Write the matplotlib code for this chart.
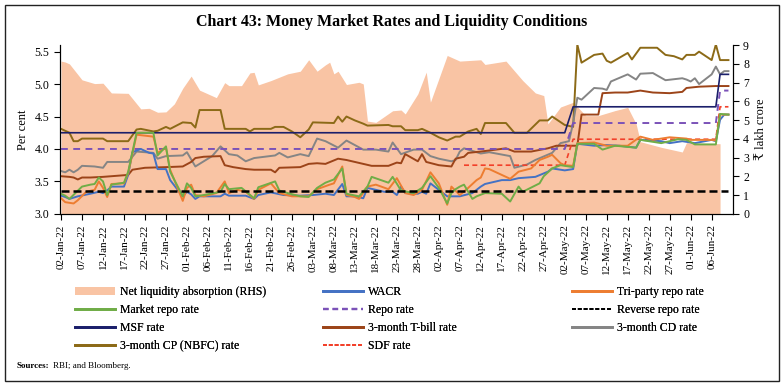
import numpy as np
import pandas as pd
import matplotlib
matplotlib.use('Agg')
import matplotlib.pyplot as plt
import matplotlib.dates as mdates
from matplotlib.lines import Line2D
from matplotlib.patches import Patch, Rectangle

plt.rcParams['font.family'] = ['Liberation Serif', 'DejaVu Serif']

start = np.datetime64('2022-01-02')

# net liquidity absorption, lakh crore (RHS), keyed by days after 02-Jan-22
liq_day = [0, 1, 2, 5, 8, 10, 12, 16, 19, 21, 23, 25, 27, 29, 31, 33, 37, 39, 40, 43, 45, 46, 47,
           50, 54, 57, 59, 61, 63, 64, 65, 66, 68, 71, 72, 73, 75, 79, 81, 82, 85, 87, 88, 92, 95,
           100, 101, 106, 110, 113, 115, 116, 117, 119, 122, 125, 128, 132, 135, 137, 138, 143,
           148, 149, 157]
liq = [8.15, 8.1, 8.0, 7.15, 6.95, 6.97, 6.45, 6.43, 5.6, 5.63, 5.42, 5.44, 5.87, 6.7, 7.35, 6.6,
       6.2, 7.0, 6.84, 6.84, 7.52, 7.55, 6.88, 7.11, 7.47, 7.61, 8.22, 7.61, 7.95, 8.09, 7.47, 7.61,
       6.9, 7.02, 6.93, 4.95, 4.88, 5.5, 5.54, 5.33, 6.4, 7.56, 5.96, 8.45, 8.15, 8.22, 7.97, 8.15,
       7.11, 6.45, 6.31, 4.8, 5.1, 5.7, 5.95, 5.24, 5.24, 5.51, 5.68, 4.8, 3.85, 3.55, 3.3, 3.8, 3.74]

wacr_day = [0, 1, 2, 4, 7, 9, 10, 11, 12, 15, 16, 17, 19, 21, 22, 23, 25, 26, 29, 30, 31, 32, 33,
            38, 39, 40, 44, 46, 47, 50, 53, 57, 60, 63, 65, 67, 68, 70, 72, 73, 77, 79, 80, 81, 82,
            85, 86, 87, 88, 92, 95, 98, 100, 101, 105, 107, 109, 113, 116, 117, 120, 122, 123, 127,
            130, 133, 137, 138, 143, 145, 148, 151, 155, 156, 157, 158, 159]
wacr = [3.28, 3.26, 3.23, 3.27, 3.31, 3.34, 3.32, 3.36, 3.42, 3.42, 3.6, 3.95, 4.0, 3.94, 3.93,
        3.69, 3.69, 3.52, 3.27, 3.34, 3.30, 3.23, 3.27, 3.27, 3.31, 3.28, 3.28, 3.23, 3.29, 3.33,
        3.29, 3.28, 3.29, 3.31, 3.29, 3.46, 3.27, 3.27, 3.24, 3.40, 3.34, 3.34, 3.29, 3.42, 3.32,
        3.31, 3.34, 3.31, 3.47, 3.27, 3.27, 3.32, 3.42, 3.46, 3.52, 3.52, 3.55, 3.57, 3.65, 3.70,
        3.67, 3.69, 4.08, 4.05, 4.06, 4.05, 4.02, 4.14, 4.12, 4.09, 4.12, 4.09, 4.14, 4.12, 4.45,
        4.53, 4.53]

tri_day = [0, 1, 3, 4, 6, 8, 9, 10, 11, 12, 15, 16, 18, 22, 23, 25, 26, 27, 29, 30, 31, 32, 34,
           37, 39, 40, 42, 44, 46, 47, 50, 52, 55, 59, 61, 64, 65, 67, 68, 70, 71, 73, 75, 78, 80,
           82, 84, 86, 88, 90, 92, 93, 95, 97, 99, 100, 101, 102, 105, 107, 109, 112, 114, 116,
           117, 119, 120, 122, 123, 127, 130, 135, 138, 141, 145, 149, 150, 155, 156, 157, 159]
tri = [3.24, 3.18, 3.16, 3.21, 3.34, 3.37, 3.50, 3.40, 3.26, 3.46, 3.47, 3.63, 4.22, 4.19, 3.94,
       4.02, 3.68, 3.52, 3.20, 3.40, 3.45, 3.29, 3.27, 3.32, 3.50, 3.32, 3.37, 3.34, 3.23, 3.37,
       3.47, 3.32, 3.27, 3.27, 3.38, 3.45, 3.47, 3.73, 3.29, 3.26, 3.23, 3.42, 3.45, 3.38, 3.55,
       3.32, 3.29, 3.37, 3.64, 3.47, 3.14, 3.42, 3.29, 3.40, 3.52, 3.56, 3.70, 3.69, 3.60, 3.54,
       3.65, 3.70, 3.83, 3.88, 3.91, 3.78, 3.75, 3.74, 4.09, 4.10, 4.05, 4.05, 4.19, 4.14, 4.18,
       4.16, 4.14, 4.14, 4.13, 4.53, 4.53]

mkt_day = [0, 1, 2, 5, 7, 8, 9, 10, 11, 12, 15, 16, 18, 22, 23, 25, 26, 29, 30, 31, 32, 34, 38,
           39, 40, 43, 46, 47, 51, 52, 54, 57, 59, 61, 63, 65, 67, 68, 71, 73, 74, 78, 79, 81, 84,
           86, 88, 90, 92, 93, 94, 95, 96, 98, 99, 101, 105, 107, 109, 110, 114, 115, 117, 119,
           122, 123, 127, 129, 132, 137, 138, 143, 147, 149, 151, 156, 157, 159]
mkt = [3.31, 3.28, 3.23, 3.42, 3.45, 3.46, 3.56, 3.50, 3.29, 3.45, 3.48, 3.65, 4.25, 4.25, 3.90,
       4.04, 3.65, 3.27, 3.47, 3.40, 3.27, 3.29, 3.34, 3.46, 3.38, 3.40, 3.24, 3.41, 3.50, 3.36,
       3.32, 3.27, 3.26, 3.40, 3.48, 3.53, 3.70, 3.31, 3.27, 3.42, 3.57, 3.48, 3.57, 3.36, 3.32,
       3.40, 3.58, 3.40, 3.16, 3.32, 3.38, 3.42, 3.45, 3.23, 3.27, 3.32, 3.31, 3.19, 3.42, 3.34,
       3.47, 3.58, 3.70, 3.75, 3.72, 4.08, 4.08, 3.99, 4.05, 4.02, 4.14, 4.09, 4.15, 4.14, 4.07,
       4.07, 4.54, 4.53]

# policy corridor
policy_day = [0, 120, 122, 156, 157, 159]
repo = [4.00, 4.00, 4.40, 4.40, 4.90, 4.90]
msf = [4.25, 4.25, 4.65, 4.65, 5.15, 5.15]
rev_repo = [3.35, 3.35, 3.35, 3.35, 3.35, 3.35]
sdf_day = [96, 120, 122, 156, 157, 159]
sdf = [3.75, 3.75, 4.15, 4.15, 4.65, 4.65]

tbill_day = [0, 2, 3, 4, 5, 7, 10, 16, 17, 20, 25, 29, 31, 32, 34, 38, 39, 41, 44, 46, 50, 51, 52,
             57, 59, 61, 63, 66, 68, 72, 74, 78, 80, 81, 82, 85, 86, 87, 90, 93, 94, 96, 97, 100,
             106, 108, 112, 116, 118, 123, 124, 128, 129, 132, 135, 138, 141, 145, 148, 149, 152,
             156, 159]
tbill = [3.58, 3.57, 3.56, 3.53, 3.56, 3.56, 3.57, 3.60, 3.68, 3.71, 3.72, 3.73, 3.80, 3.86, 3.88,
         3.89, 3.75, 3.72, 3.69, 3.68, 3.68, 3.64, 3.71, 3.72, 3.77, 3.78, 3.77, 3.85, 3.83, 3.77,
         3.74, 3.74, 3.79, 3.78, 3.92, 3.81, 3.92, 3.80, 3.75, 3.73, 3.85, 3.88, 3.94, 3.96, 4.01,
         3.96, 3.96, 4.01, 4.05, 4.05, 4.53, 4.53, 4.86, 4.87, 4.87, 4.90, 4.87, 4.86, 4.88, 4.94,
         4.96, 4.97, 4.97]

cd_day = [0, 1, 2, 3, 4, 5, 8, 10, 11, 16, 18, 22, 23, 25, 29, 30, 32, 36, 38, 40, 42, 44, 46, 51,
          52, 54, 57, 59, 61, 63, 66, 68, 72, 75, 78, 79, 81, 84, 86, 88, 90, 93, 94, 95, 96, 100,
          102, 107, 108, 111, 113, 117, 119, 121, 122, 123, 124, 127, 129, 130, 131, 135, 137,
          138, 141, 144, 148, 149, 150, 151, 152, 155, 156, 157, 158, 159]
cd = [3.66, 3.64, 3.68, 3.64, 3.68, 3.74, 3.73, 3.71, 3.80, 3.80, 3.96, 3.94, 3.85, 3.89, 3.90,
      3.95, 3.73, 3.89, 4.04, 3.92, 3.90, 3.81, 3.86, 3.90, 3.94, 3.87, 3.92, 3.89, 4.16, 4.12,
      4.02, 4.13, 3.99, 3.99, 3.96, 4.10, 3.92, 3.99, 3.99, 3.89, 3.85, 3.81, 3.83, 3.96, 4.01,
      3.93, 3.95, 3.89, 3.71, 3.76, 3.83, 3.94, 4.09, 4.12, 4.40, 4.79, 4.76, 4.94, 4.93, 4.91,
      5.04, 5.15, 5.07, 5.16, 5.17, 5.06, 5.09, 5.07, 5.04, 5.09, 5.00, 5.15, 5.27, 5.15, 5.20,
      5.20]

cp_day = [0, 2, 3, 4, 5, 10, 11, 16, 18, 19, 22, 23, 25, 26, 29, 31, 32, 33, 38, 39, 44, 45, 46,
          50, 51, 53, 55, 57, 59, 60, 65, 66, 67, 68, 70, 72, 73, 78, 79, 81, 82, 85, 86, 88, 90,
          92, 94, 95, 97, 99, 100, 101, 106, 108, 111, 114, 116, 117, 120, 122, 123, 124, 127,
          129, 130, 131, 135, 136, 138, 142, 144, 146, 148, 149, 151, 152, 155, 156, 157, 159]
cp = [4.31, 4.25, 4.12, 4.12, 4.16, 4.16, 4.12, 4.12, 4.30, 4.31, 4.27, 4.28, 4.34, 4.31, 4.41,
      4.40, 4.33, 4.60, 4.60, 4.31, 4.31, 4.27, 4.31, 4.31, 4.34, 4.34, 4.27, 4.18, 4.30, 4.41,
      4.40, 4.50, 4.42, 4.50, 4.44, 4.39, 4.36, 4.37, 4.35, 4.35, 4.29, 4.29, 4.31, 4.25, 4.18,
      4.13, 4.19, 4.19, 4.27, 4.31, 4.23, 4.40, 4.40, 4.25, 4.25, 4.44, 4.44, 4.50, 4.37, 4.34,
      5.61, 5.33, 5.45, 5.47, 5.36, 5.33, 5.48, 5.38, 5.56, 5.56, 5.45, 5.43, 5.38, 5.45, 5.45,
      5.50, 5.37, 5.61, 5.37, 5.37]


def to_dates(days):
    return start + np.array(days).astype('timedelta64[D]')


fig = plt.figure(figsize=(7.84, 3.86), dpi=100)
ax = fig.add_axes([0.0765, 0.446, 0.858, 0.437])
ax2 = ax.twinx()
ax.set_zorder(ax2.get_zorder() + 1)
ax.patch.set_visible(False)

liq_col = '#F9C4A4'
ax2.fill_between(to_dates(liq_day), liq, 0, color=liq_col, lw=0)
ax2.set_ylim(0, 9)
ax2.set_yticks(range(0, 10))
ax2.set_ylabel('₹ lakh crore', fontsize=9, labelpad=4)

cols = {
    'wacr': '#4472C4', 'tri': '#ED7D31', 'mkt': '#70AD47', 'repo': '#7B52B8',
    'msf': '#1B1F6B', 'tbill': '#9C4419', 'cd': '#858585', 'cp': '#8C6A17', 'sdf': '#F2402A',
}
lw = 1.4
ax.plot(to_dates(cp_day), cp, color=cols['cp'], lw=lw)
ax.plot(to_dates(cd_day), cd, color=cols['cd'], lw=lw)
ax.plot(to_dates(tbill_day), tbill, color=cols['tbill'], lw=lw)
ax.plot(to_dates(policy_day), msf, color=cols['msf'], lw=1.2)
ax.plot(to_dates(policy_day), repo, color=cols['repo'], lw=1.4, dashes=(3.5, 2.8))
ax.plot(to_dates(sdf_day), sdf, color=cols['sdf'], lw=1.2, dashes=(3, 2))
ax.plot(to_dates(wacr_day), wacr, color=cols['wacr'], lw=lw)
ax.plot(to_dates(tri_day), tri, color=cols['tri'], lw=lw)
ax.plot(to_dates(mkt_day), mkt, color=cols['mkt'], lw=lw)
ax.plot(to_dates(policy_day), rev_repo, color='black', lw=1.8, dashes=(3.2, 1.6))

ax.set_ylim(3.0, 5.6)
ax.set_yticks(np.arange(3.0, 5.51, 0.5))
ax.yaxis.set_major_formatter(matplotlib.ticker.FormatStrFormatter('%.1f'))
ax.set_ylabel('Per cent', fontsize=9, labelpad=4)

ax.set_xlim(start - np.timedelta64(6, 'h'), start + np.timedelta64(160, 'D'))
ticks = pd.date_range('2022-01-02', '2022-06-06', freq='5D')
ax.set_xticks(ticks)
ax.xaxis.set_major_formatter(mdates.DateFormatter('%d-%b-%y'))
plt.setp(ax.get_xticklabels(), rotation=90)

for a in (ax, ax2):
    a.spines['top'].set_visible(False)
    a.tick_params(labelsize=8.5, length=4, width=0.8)
ax.tick_params(axis='x', labelsize=8)

# legend in three columns
fs = 8.5
col1 = [Patch(facecolor=liq_col, edgecolor='none'),
        Line2D([], [], color=cols['mkt'], lw=2),
        Line2D([], [], color=cols['msf'], lw=2),
        Line2D([], [], color=cols['cp'], lw=2)]
lab1 = ['Net liquidity absorption (RHS)', 'Market repo rate', 'MSF rate', '3-month CP (NBFC) rate']
col2 = [Line2D([], [], color=cols['wacr'], lw=2),
        Line2D([], [], color=cols['repo'], lw=1.6, dashes=(2.5, 1.8)),
        Line2D([], [], color=cols['tbill'], lw=2),
        Line2D([], [], color=cols['sdf'], lw=1.4, dashes=(2, 1))]
lab2 = ['WACR', 'Repo rate', '3-month T-bill rate', 'SDF rate']
col3 = [Line2D([], [], color=cols['tri'], lw=2),
        Line2D([], [], color='black', lw=1.4, dashes=(2, 1)),
        Line2D([], [], color=cols['cd'], lw=2)]
lab3 = ['Tri-party repo rate', 'Reverse repo rate', '3-month CD rate']

for handles, labels, x0 in [(col1, lab1, 75), (col2, lab2, 323), (col3, lab3, 572)]:
    leg = fig.legend(handles, labels, loc='upper left', bbox_to_anchor=(x0 / 784, 1 - 286 / 386),
                     frameon=False, fontsize=fs, handlelength=3.4, handleheight=0.6,
                     handletextpad=0.4, labelspacing=0.5, borderpad=0, borderaxespad=0)
    fig.add_artist(leg)

fig.text(0.5, 1 - 22 / 386, 'Chart 43: Money Market Rates and Liquidity Conditions',
         ha='center', va='center', fontsize=11.5, fontweight='bold')
src = fig.text(17 / 784, 1 - 366 / 386, 'Sources:', fontsize=6.5, fontweight='bold', va='center')
fig.canvas.draw()
src_end = src.get_window_extent().x1
fig.text((src_end + 3) / 784, 1 - 366 / 386, 'RBI; and Bloomberg.', fontsize=6.5, va='center')

fig.add_artist(Rectangle((5 / 784, 5 / 386), 774 / 784, 376 / 386, transform=fig.transFigure,
                         fill=False, edgecolor='#222222', lw=1.0))

fig.savefig('out.png', dpi=100)
